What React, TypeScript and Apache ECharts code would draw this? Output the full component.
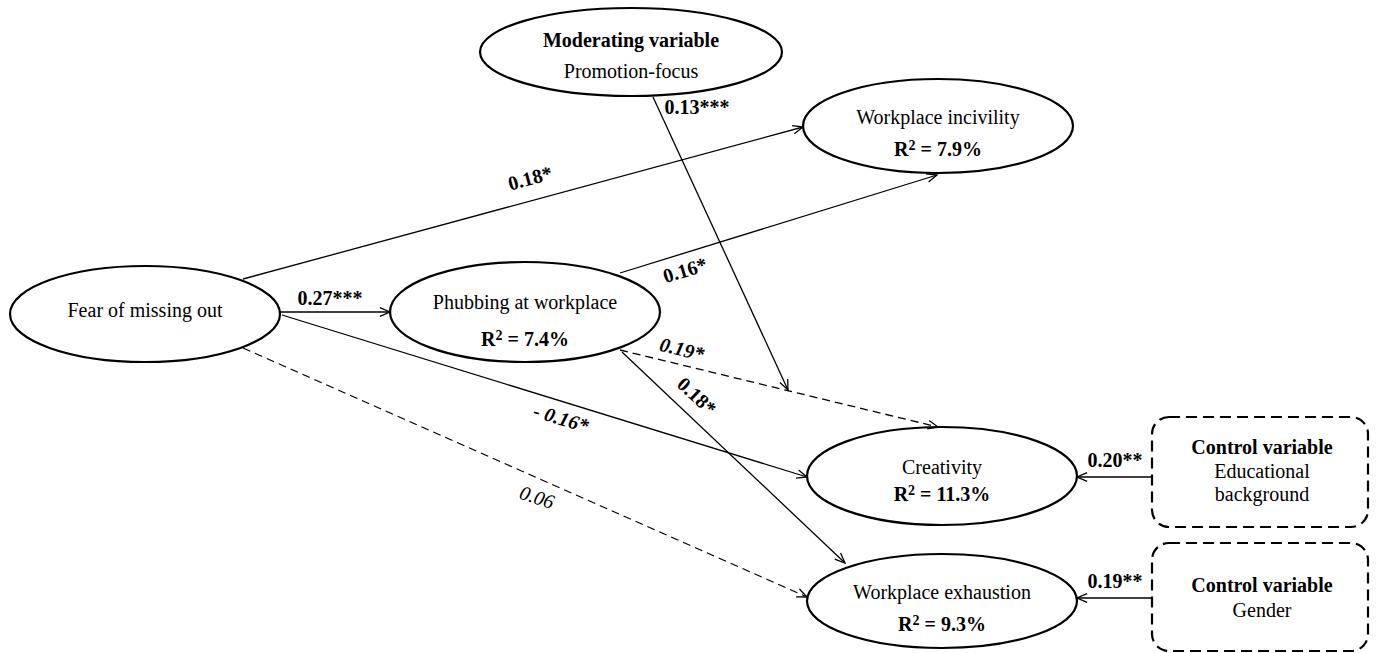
import React, { useEffect, useRef } from "react";
import * as echarts from "echarts";

const W = 1378;
const H = 653;
const FONT = '"Liberation Serif", "Times New Roman", serif';

// ---- content ----
const latentNames = ["Fear of missing out", "Phubbing at workplace", "Workplace incivility", "Creativity", "Workplace exhaustion"];
const rSquared = ["", "7.4%", "7.9%", "11.3%", "9.3%"];
const moderatorLines = ["Moderating variable", "Promotion-focus"];
const controlTitle = "Control variable";
const controlNames = [["Educational", "background"], ["Gender"]];
const pathCoefficients = ["0.18*", "0.27***", "- 0.16*", "0.06", "0.16*", "0.19*", "0.18*", "0.13***", "0.20**", "0.19**"];

// ---- layout (diagram units) ----
// ellipses: cx, cy, rx, ry  (FoMO, Phubbing, Incivility, Creativity, Exhaustion, Moderator)
const ellipseLayout = [
  [145, 314, 135, 48],
  [525, 312, 135, 50],
  [938, 126, 135, 47],
  [942, 476, 135, 49],
  [942, 601, 135, 47],
  [631, 52, 151, 44],
];
const latentTextY = [[310], [302, 339], [117, 149], [467, 494], [592, 624]];
const moderatorTextY = [40, 71];
// control boxes: x, y, w, h
const boxLayout = [
  [1152, 417, 216, 110],
  [1152, 543, 216, 108],
];
const controlTextY = [[447, 471, 494], [585, 610]];
// edges: x1, y1, x2, y2, dashed
const edgeLayout = [
  [243, 279, 803, 127, 0],
  [280, 312, 390, 312, 0],
  [282, 315, 807, 477, 0],
  [243, 348, 807, 597, 1],
  [620, 273, 937, 175, 0],
  [620, 350, 938, 427, 1],
  [622, 352, 845, 563, 0],
  [653, 97, 788, 390, 0],
  [1152, 477, 1077, 477, 0],
  [1152, 598, 1077, 598, 0],
];
// coefficient labels: x, y, rotation(deg, clockwise), bold, italic
const coefLayout = [
  [530, 178, -15.2, 1, 0],
  [330, 298, 0, 1, 0],
  [561, 418, 17, 1, 1],
  [537, 497, 18, 0, 1],
  [685, 270, -17, 1, 0],
  [682, 349, 13.6, 1, 1],
  [697, 396, 43, 1, 0],
  [697, 107, 0, 1, 0],
  [1115, 460, 0, 1, 0],
  [1115, 581, 0, 1, 0],
];

type TextItem = { x: number; y: number; text: string; bold: boolean; italic: boolean; rot: number; size: number; r2?: string };

function buildTexts(): TextItem[] {
  const t: TextItem[] = [];
  latentNames.forEach((name, i) => {
    const [cx] = ellipseLayout[i];
    const ys = latentTextY[i];
    t.push({ x: cx, y: ys[0], text: name, bold: false, italic: false, rot: 0, size: 20 });
    if (rSquared[i]) t.push({ x: cx, y: ys[1], text: "", r2: rSquared[i], bold: true, italic: false, rot: 0, size: 20 });
  });
  const mcx = ellipseLayout[5][0];
  moderatorLines.forEach((s, j) => t.push({ x: mcx, y: moderatorTextY[j], text: s, bold: j === 0, italic: false, rot: 0, size: 20 }));
  controlNames.forEach((lines, i) => {
    const [bx, , bw] = boxLayout[i];
    const cx = bx + bw / 2 + 2;
    const ys = controlTextY[i];
    t.push({ x: cx, y: ys[0], text: controlTitle, bold: true, italic: false, rot: 0, size: 20 });
    lines.forEach((s, j) => t.push({ x: cx, y: ys[j + 1], text: s, bold: false, italic: false, rot: 0, size: 20 }));
  });
  pathCoefficients.forEach((c, i) => {
    const [x, y, r, b, it] = coefLayout[i];
    t.push({ x, y, text: c, bold: !!b, italic: !!it, rot: r, size: 20 });
  });
  return t;
}

export default function App() {
  const ref = useRef<HTMLDivElement>(null);
  useEffect(() => {
    document.body.style.margin = "0";
    const chart = echarts.init(ref.current!, null, { renderer: "svg" });
    const texts = buildTexts();

    const option: any = {
      animation: false,
      backgroundColor: "#ffffff",
      grid: { left: 0, right: 0, top: 0, bottom: 0 },
      xAxis: { type: "value", min: 0, max: W, show: false },
      yAxis: { type: "value", min: 0, max: H, inverse: true, show: false },
      series: [
        {
          type: "custom",
          name: "ellipses",
          clip: false,
          silent: true,
          data: ellipseLayout.map((e, i) => [e[0], e[1], i]),
          renderItem: (_p: any, api: any) => {
            const e = ellipseLayout[api.value(2)];
            const a = api.coord([e[0] - e[2], e[1] - e[3]]);
            const b = api.coord([e[0] + e[2], e[1] + e[3]]);
            return {
              type: "ellipse",
              shape: { cx: (a[0] + b[0]) / 2, cy: (a[1] + b[1]) / 2, rx: Math.abs(b[0] - a[0]) / 2, ry: Math.abs(b[1] - a[1]) / 2 },
              style: { fill: "#ffffff", stroke: "#000000", lineWidth: 2.2 },
            };
          },
        },
        {
          type: "custom",
          name: "boxes",
          clip: false,
          silent: true,
          data: boxLayout.map((b, i) => [b[0], b[1], i]),
          renderItem: (_p: any, api: any) => {
            const bx = boxLayout[api.value(2)];
            const a = api.coord([bx[0], bx[1]]);
            const b = api.coord([bx[0] + bx[2], bx[1] + bx[3]]);
            return {
              type: "rect",
              shape: { x: a[0], y: a[1], width: b[0] - a[0], height: b[1] - a[1], r: 17 },
              style: { fill: "#ffffff", stroke: "#000000", lineWidth: 2.2, lineDash: [11, 6] },
            };
          },
        },
        {
          type: "custom",
          name: "paths",
          clip: false,
          silent: true,
          data: edgeLayout.map((e, i) => [e[0], e[1], i]),
          renderItem: (_p: any, api: any) => {
            const e = edgeLayout[api.value(2)];
            const p1 = api.coord([e[0], e[1]]);
            const p2 = api.coord([e[2], e[3]]);
            const ang = Math.atan2(p2[1] - p1[1], p2[0] - p1[0]);
            const L = 11;
            const a = 0.4;
            const h1 = [p2[0] - L * Math.cos(ang - a), p2[1] - L * Math.sin(ang - a)];
            const h2 = [p2[0] - L * Math.cos(ang + a), p2[1] - L * Math.sin(ang + a)];
            return {
              type: "group",
              children: [
                {
                  type: "line",
                  shape: { x1: p1[0], y1: p1[1], x2: p2[0], y2: p2[1] },
                  style: { stroke: "#000000", lineWidth: 1.3, lineDash: e[4] ? [8, 5] : null },
                },
                {
                  type: "polyline",
                  shape: { points: [h1, p2, h2] },
                  style: { stroke: "#000000", fill: null, lineWidth: 1.3 },
                },
              ],
            };
          },
        },
        {
          type: "custom",
          name: "texts",
          clip: false,
          silent: true,
          data: texts.map((t, i) => [t.x, t.y, i]),
          renderItem: (_p: any, api: any) => {
            const t = texts[api.value(2)];
            const p = api.coord([t.x, t.y]);
            const font = `${t.italic ? "italic " : ""}${t.bold ? "bold " : ""}${t.size}px ${FONT}`;
            const style: any = t.r2
              ? {
                  text: `{b|R}{s|2}{b| = ${t.r2}}`,
                  rich: {
                    b: { font, fill: "#000000", lineHeight: 22 },
                    s: { font: `bold 14px ${FONT}`, fill: "#000000", verticalAlign: "top", lineHeight: 14 },
                  },
                }
              : { text: t.text, font };
            return {
              type: "text",
              x: p[0],
              y: p[1],
              rotation: (-t.rot * Math.PI) / 180,
              style: {
                ...style,
                x: 0,
                y: 0,
                align: "center",
                verticalAlign: "middle",
                fill: "#000000",
              },
            };
          },
        },
      ],
    };
    chart.setOption(option);
    return () => chart.dispose();
  }, []);
  return <div ref={ref} style={{ width: W, height: H }} />;
}
